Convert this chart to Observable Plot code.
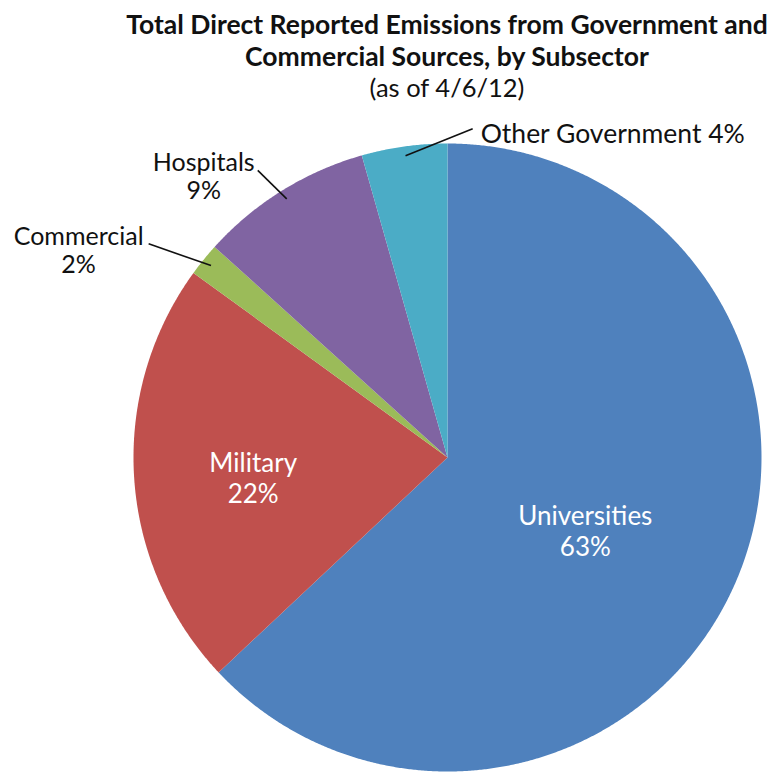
<!DOCTYPE html>
<html><head><meta charset="utf-8">
<script src="https://cdn.jsdelivr.net/npm/d3@7"></script>
<script src="https://cdn.jsdelivr.net/npm/@observablehq/plot@0.6"></script>
<style>
body{margin:0;background:#fff;font-family:Lato,"Open Sans",sans-serif;width:767px;height:772px;overflow:hidden}
#title{position:relative;height:108px}
.t{position:absolute;left:447px;transform:translateX(-50%);white-space:nowrap;color:#111;line-height:1}
#chart svg{display:block}
</style></head><body>
<div id="title">
  <div class="t" style="top:11px;font-weight:bold;font-size:26.5px">Total Direct Reported Emissions from Government and</div>
  <div class="t" style="top:43px;font-weight:bold;font-size:26.5px">Commercial Sources, by Subsector</div>
  <div class="t" style="top:75px;font-size:25.5px">(as of 4/6/12)</div>
</div>
<div id="chart"></div>
<script>
// ---- data ----
const subsectors = ["Universities", "Military", "Commercial", "Hospitals", "Other Government"];
const shares = [63.0, 22.0, 1.7, 8.9, 4.4];
const percentLabels = ["63%", "22%", "2%", "9%", "4%"];
const colors = ["#4F81BD", "#C0504D", "#9BBB59", "#8064A2", "#4BACC6"];

// ---- layout ----
const W = 767, H = 664, cx = 447, cy = 349, R = 314;
const table = subsectors.map((name, i) => ({name, share: shares[i], pct: percentLabels[i]}));
const arcs = d3.pie().sort(null).value(d => d.share)(table);
const pt = (a, r) => [r * Math.sin(a), r * Math.cos(a)];

const poly = [];
for (const a of arcs) {
  const n = Math.max(2, Math.ceil((a.endAngle - a.startAngle) / 0.005));
  poly.push({name: a.data.name, x: 0, y: 0});
  for (let k = 0; k <= n; k++) {
    const ang = a.startAngle + (a.endAngle - a.startAngle) * k / n;
    const [x, y] = pt(ang, 1);
    poly.push({name: a.data.name, x, y});
  }
  poly.push({name: a.data.name, x: 0, y: 0});
}

const mid = a => (a.startAngle + a.endAngle) / 2;
const deg = Math.PI / 180;

// inside labels: radius fraction and pixel offsets
const insideLayout = {
  "Universities": {r: 0.44, dx: 11, dy: 18},
  "Military": {r: 0.62, dx: 0, dy: 8}
};
// outside labels: leader start angle shift/radius, text offsets
const outsideLayout = {
  "Commercial": {shift: -3.5, r: 1.17, dx: -70, dy: 6, anchor: "middle", size: 25},
  "Hospitals": {shift: -1.6, r: 1.096, dx: -54, dy: 6, anchor: "middle", size: 25},
  "Other Government": {shift: 12.3, r: 1.05, dx: 8, dy: 5, anchor: "start", size: 26.5}
};

const marks = [
  Plot.line(poly, {x: "x", y: "y", z: "name", fill: "name", stroke: "none", curve: "linear"})
];

for (const a of arcs) {
  const name = a.data.name;
  if (insideLayout[name]) {
    const L = insideLayout[name];
    const [x, y] = pt(mid(a), L.r);
    marks.push(Plot.text([a.data], {
      x: () => x, y: () => y, text: d => d.name + "\n" + d.pct,
      fill: "white", fontSize: 26, lineHeight: 1.18, dx: L.dx, dy: L.dy,
      fontFamily: "Lato"
    }));
  } else {
    const L = outsideLayout[name];
    const [x1, y1] = pt(mid(a), 0.97);
    const [x2, y2] = pt(mid(a) + L.shift * deg, L.r);
    marks.push(Plot.link([a.data], {x1: () => x1, y1: () => y1, x2: () => x2, y2: () => y2, stroke: "#111", strokeWidth: 1.6}));
    const txt = name === "Other Government" ? d => d.name + " " + d.pct : d => d.name + "\n" + d.pct;
    marks.push(Plot.text([a.data], {
      x: () => x2, y: () => y2, text: txt, fill: "#111", fontSize: L.size, lineHeight: 1.12,
      textAnchor: L.anchor, dx: L.dx, dy: L.dy, fontFamily: "Lato"
    }));
  }
}

const chart = Plot.plot({
  width: W, height: H, margin: 0,
  x: {domain: [-1, 1], range: [cx - R, cx + R], axis: null},
  y: {domain: [-1, 1], range: [cy + R, cy - R], axis: null},
  color: {domain: subsectors, range: colors},
  style: {background: "white", overflow: "visible"},
  marks
});
document.getElementById("chart").appendChild(chart);
</script>
</body></html>
